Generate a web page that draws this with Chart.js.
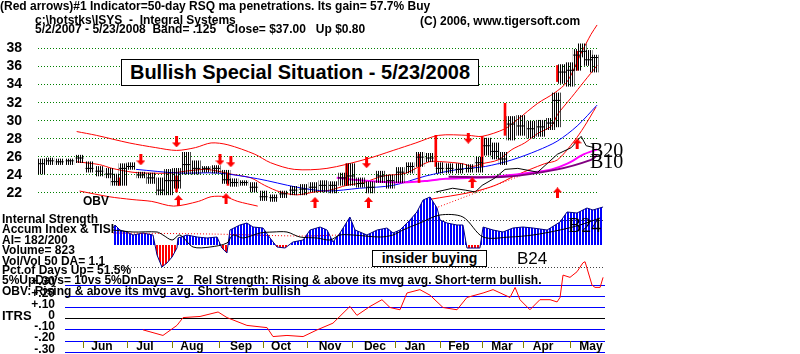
<!DOCTYPE html>
<html>
<head>
<meta charset="utf-8">
<script src="https://cdn.jsdelivr.net/npm/chart.js@4.4.1/dist/chart.umd.min.js"></script>
<style>
  body { margin: 0; width: 800px; height: 354px; overflow: hidden; position: relative; background: #fff;
         font-family: "Liberation Sans", Arial, sans-serif; }
  canvas { position: absolute; left: 0; }
  .t { position: absolute; white-space: pre; font-weight: bold; font-size: 12px; line-height: 12px; color: #000; }
  .box { position: absolute; box-sizing: border-box; border: 1px solid #000; background: #fff; text-align: center;
         font-weight: bold; white-space: pre; }
  .sig { position: absolute; font-family: "Liberation Serif", "Times New Roman", serif; font-size: 20px; line-height: 20px; color: #000; }
</style>
</head>
<body>
<canvas id="price" width="605" height="215" style="top:0"></canvas>
<canvas id="ind" width="605" height="77" style="top:193px"></canvas>
<canvas id="itrs" width="605" height="99" style="top:255px"></canvas>

<div class="t" style="left:0;top:0">(Red arrows)#1 Indicator=50-day RSQ ma penetrations. Its gain= 57.7% Buy</div>
<div class="t" style="left:35px;top:14px">c:\hotstks\ISYS  -  Integral Systems</div>
<div class="t" style="left:35px;top:23px">5/2/2007 - 5/23/2008  Band= .125   Close= $37.00   Up $0.80</div>
<div class="t" style="left:420px;top:15px">(C) 2006, www.tigersoft.com</div>
<div class="box" style="left:121px;top:59px;width:358px;height:27px;font-size:20px;line-height:25px">Bullish Special Situation - 5/23/2008</div>
<div class="t" style="left:83px;top:195px">OBV</div>
<div class="sig" style="left:590px;top:140px">B20</div>
<div class="sig" style="left:590px;top:151px">B10</div>
<div class="sig" style="left:568px;top:215px">B24</div>

<div class="t" style="left:2px;top:213px">Internal Strength</div>
<div class="t" style="left:2px;top:223px">Accum Index &amp; TISI</div>
<div class="t" style="left:2px;top:234px">AI= 182/200</div>
<div class="t" style="left:2px;top:244px">Volume= 823</div>
<div class="t" style="left:2px;top:255px">Vol/Vol 50 DA= 1.1</div>
<div class="t" style="left:2px;top:264px">Pct.of Days Up= 51.5%</div>
<div class="t" style="left:2px;top:274px">5%UpDays= 10vs 5%DnDays= 2   Rel Strength: Rising &amp; above its mvg avg. Short-term bullish.</div>
<div class="t" style="left:2px;top:285px">OBV: Rising &amp; above its mvg avg. Short-term bullish</div>
<div class="t" style="left:2px;top:309px;font-size:13px;line-height:13px">ITRS</div>
<div class="box" style="left:372px;top:250px;width:115px;height:17px;font-size:14px;line-height:15px">insider buying</div>
<div class="t" style="left:517px;top:250px;font-weight:normal;font-size:17px;line-height:17px">B24</div>

<script>
// trading days since 5/2/2007 on x, prices on y
const barDay = [0.5,4.7,9.4,14.2,18.9,23.6,28.3,33.0,35.8,39.6,43.4,48.1,52.8,57.5,61.3,65.1,69.8,74.5,79.2,84.0,
  88.7,92.5,97.2,101.9,106.6,111.3,116.0,120.8,125.5,130.2,134.9,139.6,144.3,148.1,152.8,157.5,162.3,167.0,171.7,176.4,
  181.1,185.8,190.6,195.3,200.0,204.7,209.4,213.2,217.0,220.8,224.5,229.2,234.0,238.7,243.4,246.2,249.1,252.8,256.1,258.5,
  261.3,264.2];
const barHigh = [25.76,25.87,25.76,25.76,26.18,25.45,24.93,24.72,24.09,25.24,25.35,24.30,24.20,23.67,24.61,24.72,26.50,25.56,24.93,25.03,
  24.51,23.57,23.36,23.15,22.21,21.79,22.21,22.73,22.94,23.15,23.36,23.25,24.20,25.24,23.67,23.25,24.41,23.99,24.82,25.35,
  26.50,26.39,25.35,25.24,25.24,25.14,25.97,28.07,27.54,26.50,30.47,30.58,29.95,30.05,30.26,33.08,36.22,36.43,37.90,38.52,
  37.79,37.27];
const barLow = [24.09,25.14,25.14,25.14,25.35,24.30,23.88,23.67,22.84,22.84,24.61,23.67,23.05,21.79,21.79,22.52,24.09,24.09,24.30,24.20,
  23.05,22.73,22.84,22.10,21.16,21.06,21.48,21.79,21.79,22.10,22.10,22.00,22.84,22.84,22.63,22.00,23.15,22.52,23.15,24.20,
  24.93,25.45,24.20,24.20,24.20,24.30,24.30,26.18,25.76,25.14,27.86,28.38,28.07,28.27,29.01,29.32,34.13,33.82,35.59,37.06,
  36.12,35.39];
const barClose = [25.24,25.56,25.45,25.56,25.87,24.72,24.41,24.09,23.25,24.72,24.93,23.99,23.67,22.31,23.36,23.36,25.14,24.72,24.72,24.72,
  23.46,23.15,23.15,22.63,21.58,21.48,21.90,22.31,22.42,22.63,22.84,22.84,23.67,23.88,23.05,22.63,23.88,23.36,24.30,24.93,
  25.97,25.87,24.72,24.72,24.61,24.72,25.35,27.23,26.60,25.76,29.63,29.42,29.11,29.32,29.74,32.25,35.39,35.59,37.27,37.69,
  36.75,37.00];

const sigDay = [37.7,65.1,89.6,146.2,180.7,188.7,210.8,221.7,246.7,256.1];
const sigHigh = [23.67,23.88,24.20,25.24,26.29,28.38,28.27,31.93,36.12,37.69];
const sigLow = [22.84,22.10,22.84,22.84,23.15,24.93,24.93,28.38,34.34,35.59];

const dnDay = [48.1,65.1,85.8,91.0,155.7,204.2];
const dnVal = [25.66,27.65,25.66,25.45,25.35,28.07];
const upDay = [66.0,88.7,131.1,156.6,206.1,246.7,256.1];
const upVal = [21.16,21.37,20.95,20.95,23.15,22.00,27.44];

const upperDay = [17.5,26.9,42.5,55.2,65.1,74.1,81.6,89.6,102.4,109.9,121.2,136.8,155.7,168.4,179.2,190.1,204.2,210.8,221.7,227.8,
  237.3,245.3,251.4,258.0,262.7,265.6];
const upperVal = [28.80,28.38,27.54,27.02,26.71,27.02,27.54,27.33,26.29,25.35,24.61,24.72,25.76,26.71,27.54,28.38,28.38,28.27,29.11,30.16,
  31.93,33.08,34.34,37.48,39.57,40.61];
const midDay = [17.5,28.3,34.4,43.9,50.5,62.7,69.3,78.8,84.9,91.0,100.5,107.1,114.6,122.6,130.7,138.2,146.2,154.2,163.7,174.5,
  185.4,192.0,201.4,206.1,210.8,218.4,225.0,231.1,237.3,243.9,246.7,253.3,259.4,265.6];
const midVal = [25.45,25.14,24.72,24.30,24.20,24.20,24.41,24.61,24.41,24.09,23.67,22.84,22.10,21.79,22.10,22.31,22.84,23.15,23.88,24.20,
  25.45,25.45,25.24,24.93,25.24,25.66,26.81,27.54,28.59,29.42,30.68,32.56,34.34,36.12];
const lowerDay = [18.9,33.0,43.9,53.3,63.7,75.5,81.6,88.2,94.3,103.8,140,185.4,206.1,217.0,226.4,240.6,246.7,254.7,259.4,265.1];
const lowerVal = [22.21,21.58,21.27,21.06,20.54,21.06,21.58,21.58,21.06,20.54,null,21.27,22.10,22.84,23.90,25.24,25.66,27.75,29.32,31.52];
const ma50Day = [45.8,66.0,84.9,103.8,122.6,136.8,152.4,168.4,184.0,199.5,212.3,225.0,237.3,246.7,256.1,265.6];
const ma50Val = [24.61,24.20,24.20,23.57,22.63,22.21,22.52,22.84,23.88,24.61,24.93,25.66,26.71,27.75,29.42,31.73];
const magDay = [141.5,154.2,169.8,185.4,193.4,206.1,220.3,232.5,243.9,251.4,259.4,265.6];
const magVal = [23.67,23.36,23.15,23.36,23.57,23.67,23.88,24.20,24.61,25.24,26.29,26.81];
const purDay = [194.8,221.7,246.7,262.7,265.6];
const purVal = [23.78,23.78,24.61,25.66,26.18];
const obvDay = [188.7,196.7,202.8,207.5,210.8,217.0,221.7,227.8,237.3,246.7,253.3,258.0,260.4,264.2];
const obvVal = [22.10,22.52,22.31,22.10,22.84,23.67,24.61,24.72,24.30,26.29,27.02,28.27,27.23,27.02];
const trendDay = [179.2,231.1];
const trendVal = [19.49,24.09];
const priceTicks = [22,24,26,28,30,32,34,36,38];

// accumulation index (bars) and TISI
const aiDay = [34.4,35.4,37.7,41.0,43.9,48.6,53.3,55.2,57.5,59.9,62.3,64.6,65.1,69.3,74.1,78.8,83.5,85.8,88.2,89.6,
  94.3,97.6,100.5,105.2,108.5,111.8,115.6,119.3,124.1,127.4,132.1,135.4,138.2,141.5,146.2,148.6,150.9,154.2,159.0,163.7,
  166.5,169.8,174.5,177.8,180.7,184.0,187.3,188.7,192.0,196.7,199.5,201.4,207.5,209.0,213.7,218.4,223.1,227.8,232.5,239.2,
  245.3,248.6,253.3,258.0,260.8,265.6];
const aiVal = [0.17,0.20,0.15,0.13,0.10,0.12,0.10,-0.10,-0.22,-0.18,-0.12,-0.03,0.07,0.10,0.08,0.07,0.08,-0.03,-0.08,0.15,
  0.20,0.22,0.18,0.17,0.07,-0.02,-0.03,0.03,0.05,0.15,0.18,0.15,0.03,0.12,0.28,0.15,0.13,0.10,0.15,0.17,
  0.12,0.15,0.25,0.33,0.45,0.48,0.37,0.25,0.22,0.20,0.20,-0.03,-0.03,0.18,0.15,0.13,0.17,0.18,0.17,0.15,
  0.23,0.33,0.32,0.37,0.35,0.38];
const tisiDay = [34.4,43.9,55.2,58.0,62.3,66.0,72.2,80.2,88.2,91.0,95.8,103.8,109.9,116.5,122.6,130.7,136.8,141.5,147.6,160.4,
  166.5,171.2,179.2,188.7,199.5,209.0,221.7,232.5,245.3,254.7,264.2];
const tisiVal = [0.15,0.13,0.13,0.10,0.05,0.10,-0.02,-0.02,0.02,0.10,0.07,0.12,0.13,0.13,0.08,0.07,0.05,0.10,0.10,0.08,
  0.10,0.15,0.22,0.30,0.28,0.08,0.08,0.10,0.15,0.20,0.27];
const aiRefDay = [34.4,80.2,122.6,141.5];
const aiRefVal = [0.12,0.11,0.09,0.10];
const aiGrid = [0.25,-0.22];

// ITRS
const itrsDay = [48.6,58.0,64.6,67.5,75.5,84.0,88.2,97.6,107.1,109.9,116.5,124.1,130.7,138.2,146.2,149.5,155.7,161.3,165.1,169.8,
  173.1,179.2,184.0,190.1,196.7,201.4,209.0,213.7,221.7,224.1,226.4,231.1,235.8,240.6,243.9,245.3,246.7,250.0,253.3,256.1,
  257.1,260.4,261.8,264.2,265.6];
const itrsVal = [-0.10,-0.15,-0.06,0.01,0.02,0.06,0.01,-0.06,-0.08,-0.16,-0.15,-0.16,-0.10,-0.04,0.11,0.03,0.11,0.17,0.10,0.08,
  0.23,0.26,0.21,0.10,0.08,0.19,0.23,0.26,0.19,0.28,0.17,0.08,0.17,0.17,0.15,0.19,0.39,0.37,0.42,0.50,
  0.51,0.30,0.28,0.28,0.37];
const itrsTicks = [-0.3,-0.2,-0.1,0,0.1,0.2,0.3];

const monthStart = [20.3,41.5,62.3,84.9,105.2,126.4,147.6,167.5,188.7,208.5,228.3,250.0];
const monthMid = [29.2,49.5,71.7,94.8,113.7,136.8,158.0,176.9,197.6,217.9,237.3,259.9];
const monthName = ['Jun','Jul','Aug','Sep','Oct','Nov','Dec','Jan','Feb','Mar','Apr','May'];

// ---- layout helpers ----
const X0 = 40, DAY_PX = 2.12, X_RIGHT = 605;
const dayAt = px => (px - X0) / DAY_PX;
const pts = (xs, ys) => xs.map((x, i) => ({ x: x, y: ys[i] }));

Chart.defaults.font.family = "'Liberation Sans', Arial, sans-serif";
Chart.defaults.color = '#000';

function fix(w) {
  return s => {
    if (w !== undefined) s.width = w;
    s.paddingTop = 0; s.paddingBottom = 0; s.paddingLeft = 0; s.paddingRight = 0;
  };
}
function setTicks(list) {
  return s => { s.ticks = list.map(v => ({ value: v })); };
}
function stripes(color, period, width) {
  const c = document.createElement('canvas');
  c.width = period; c.height = 1;
  const g = c.getContext('2d');
  g.fillStyle = color;
  g.fillRect(0, 0, width, 1);
  return g.createPattern(c, 'repeat');
}
function arrow(up) {
  const c = document.createElement('canvas');
  c.width = 9; c.height = 11;
  const g = c.getContext('2d');
  g.fillStyle = '#ff0000';
  g.beginPath();
  if (up) {
    g.moveTo(4.5, 0); g.lineTo(9, 5); g.lineTo(0, 5); g.closePath(); g.fill();
    g.fillRect(3, 5, 3, 6);
  } else {
    g.moveTo(4.5, 11); g.lineTo(9, 6); g.lineTo(0, 6); g.closePath(); g.fill();
    g.fillRect(3, 0, 3, 6);
  }
  return c;
}
function line(xs, ys, color, extra) {
  return Object.assign({ type: 'line', data: pts(xs, ys), borderColor: color, borderWidth: 1,
    pointRadius: 0, tension: 0.3, fill: false }, extra || {});
}
function baseOptions(scales) {
  return {
    responsive: false, animation: false, devicePixelRatio: 1,
    layout: { padding: 0 },
    plugins: { legend: { display: false }, tooltip: { enabled: false } },
    scales: scales
  };
}

// ---- price panel ----
new Chart(document.getElementById('price'), {
  type: 'line',
  data: {
    datasets: [
      { type: 'scatter', data: pts(dnDay, dnVal), pointStyle: arrow(false), pointRadius: 5 },
      { type: 'scatter', data: pts(upDay, upVal), pointStyle: arrow(true), pointRadius: 5 },
      { type: 'scatter', data: pts(barDay, barClose), pointStyle: 'line', pointRadius: 4,
        borderColor: '#000', borderWidth: 1 },
      { type: 'bar', data: barDay.map((d, i) => ({ x: d, y: [barLow[i], barHigh[i]] })),
        backgroundColor: stripes('#000', 2, 1), barThickness: 8, grouped: false },
      { type: 'bar', data: sigDay.map((d, i) => ({ x: d, y: [sigLow[i], sigHigh[i]] })),
        backgroundColor: '#ff0000', barThickness: 2, grouped: false },
      line(obvDay, obvVal, '#000', { tension: 0 }),
      line(purDay, purVal, '#800080', { borderWidth: 2 }),
      line(magDay, magVal, '#ff00ff', { borderWidth: 2 }),
      line(ma50Day, ma50Val, '#0000ff'),
      line(trendDay, trendVal, '#ff0000', { tension: 0, borderDash: [1, 2] }),
      line(lowerDay, lowerVal, '#ff0000'),
      line(midDay, midVal, '#ff0000'),
      line(upperDay, upperVal, '#ff0000')
    ]
  },
  options: baseOptions({
    x: { type: 'linear', display: false, offset: false, grid: { offset: false },
         min: dayAt(38), max: dayAt(X_RIGHT) },
    y: {
      type: 'linear', min: 20.22, max: 42.71,
      afterBuildTicks: setTicks(priceTicks), afterFit: fix(38),
      border: { display: false, dash: [1, 2] },
      grid: { color: '#008000', drawTicks: false },
      ticks: { padding: 16, autoSkip: false, font: { size: 14, weight: 'bold' } }
    }
  })
});

// ---- accumulation index panel ----
new Chart(document.getElementById('ind'), {
  type: 'line',
  data: {
    datasets: [
      line(tisiDay, tisiVal, '#000'),
      line(aiRefDay, aiRefVal, '#ff0000', { borderDash: [1, 2] }),
      line(aiDay, aiVal, '#000080', { tension: 0,
        fill: { target: 'origin', above: stripes('#0000ff', 3, 2), below: stripes('#ff0000', 3, 2) } })
    ]
  },
  options: baseOptions({
    x: { type: 'linear', display: false, min: dayAt(113), max: dayAt(X_RIGHT) },
    y: {
      type: 'linear', min: -0.25, max: 0.52,
      afterBuildTicks: setTicks(aiGrid), afterFit: fix(113),
      border: { display: false, dash: [1, 2] },
      grid: { color: '#404040', drawTicks: false },
      ticks: { display: false }
    }
  })
});

// ---- ITRS panel with month axis ----
const fmtItrs = v => {
  if (Math.abs(v) < 1e-9) return '0';
  const s = Math.abs(v).toFixed(2).replace('0.', '.');
  return (v > 0 ? '+' : '-') + s;
};
new Chart(document.getElementById('itrs'), {
  type: 'line',
  data: { datasets: [ line(itrsDay, itrsVal, '#ff0000', { tension: 0 }) ] },
  options: baseOptions({
    x: { type: 'linear', display: false, min: dayAt(65), max: dayAt(X_RIGHT) },
    y: {
      type: 'linear', min: -0.316, max: 0.570,
      afterBuildTicks: setTicks(itrsTicks), afterFit: fix(65),
      border: { display: false },
      grid: { color: c => (c.tick && Math.abs(c.tick.value) < 1e-9 ? '#000' : '#0000ff'), drawTicks: false },
      ticks: { callback: fmtItrs, autoSkip: false, padding: 10, labelOffset: -3, font: { size: 12, weight: 'bold' } }
    },
    xMonthTick: {
      axis: 'x', type: 'linear', position: { y: -0.2 }, min: dayAt(65), max: dayAt(X_RIGHT),
      afterBuildTicks: setTicks(monthStart), afterFit: fix(),
      border: { display: false },
      grid: { drawOnChartArea: false, drawTicks: true, tickLength: 7, tickColor: '#808000', tickWidth: 1 },
      ticks: { display: false }
    },
    xMonthLbl: {
      axis: 'x', type: 'linear', position: { y: -0.2 }, min: dayAt(65), max: dayAt(X_RIGHT),
      afterBuildTicks: setTicks(monthMid), afterFit: fix(),
      border: { display: false },
      grid: { display: false, drawTicks: false },
      ticks: { callback: (v, i) => monthName[i], autoSkip: false, maxRotation: 0, minRotation: 0,
               padding: -2, font: { size: 12, weight: 'bold' } }
    }
  })
});
</script>
</body>
</html>
